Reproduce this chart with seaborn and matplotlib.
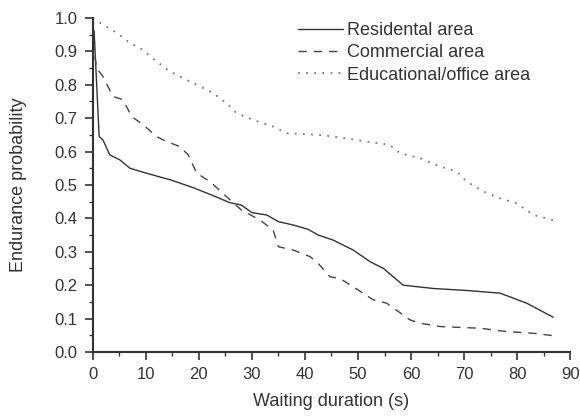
import matplotlib
matplotlib.use("Agg")
import matplotlib.pyplot as plt
import seaborn as sns
import pandas as pd
from matplotlib.ticker import MultipleLocator

sns.set_theme(style="white")
plt.rcParams['font.family'] = ['Liberation Sans', 'DejaVu Sans']

res_x = [0, 0.25, 1.2, 1.9, 3.2, 5.1, 7, 9.5, 12.6, 14.5, 18.9, 22.7, 25.8, 28, 30, 32.8, 35, 37.8,
         40.6, 42.5, 45.3, 49.1, 52.3, 54.8, 58.5, 64.2, 70.5, 76.8, 81.8, 86.8]
res_y = [0.97, 0.96, 0.645, 0.635, 0.59, 0.575, 0.55, 0.538, 0.524, 0.516, 0.492, 0.468, 0.447, 0.44,
         0.417, 0.41, 0.39, 0.38, 0.367, 0.35, 0.335, 0.305, 0.27, 0.25, 0.20, 0.19, 0.184, 0.176, 0.146, 0.104]

com_x = [0, 0.25, 0.7, 1.9, 3.8, 5.7, 7.3, 9.5, 12, 13.9, 16.4, 18, 19.6, 22.1, 25.2, 28, 31.5, 34, 35,
         37.8, 41, 42.5, 44.7, 46.6, 49.1, 52.9, 55.4, 59.8, 61.7, 65.5, 73, 78, 83, 87.2]
com_y = [0.93, 0.905, 0.85, 0.825, 0.765, 0.755, 0.705, 0.68, 0.645, 0.63, 0.615, 0.59, 0.535, 0.51,
         0.465, 0.425, 0.395, 0.365, 0.315, 0.305, 0.285, 0.265, 0.225, 0.22, 0.195, 0.156, 0.146,
         0.096, 0.086, 0.076, 0.071, 0.061, 0.056, 0.048]

edu_x = [0, 0.4, 4.5, 7, 8.9, 12, 14.5, 17, 20.2, 22.7, 25.2, 27.1, 30.2, 34, 36.5, 42.5, 45.3, 51.6,
         56, 57.9, 61.7, 65.5, 68.6, 70.5, 73.7, 76.8, 79.9, 83.1, 87.8]
edu_y = [1.0, 0.995, 0.955, 0.925, 0.91, 0.87, 0.84, 0.82, 0.795, 0.775, 0.745, 0.715, 0.695, 0.675,
         0.655, 0.65, 0.645, 0.63, 0.62, 0.595, 0.58, 0.555, 0.54, 0.51, 0.48, 0.46, 0.445, 0.41, 0.39]

labels = ["Residental area", "Commercial area", "Educational/office area"]

df = pd.concat([
    pd.DataFrame({"x": res_x, "y": res_y, "s": labels[0]}),
    pd.DataFrame({"x": com_x, "y": com_y, "s": labels[1]}),
    pd.DataFrame({"x": edu_x, "y": edu_y, "s": labels[2]}),
])

fig = plt.figure(figsize=(5.8, 4.17), dpi=100)
ax = fig.add_axes([0.160, 0.156, 0.823, 0.801])

styles = {labels[0]: ("-", "#333333", 1.0),
          labels[1]: ((0, (6, 5)), "#444444", 1.0),
          labels[2]: ((0, (1, 3.5)), "#777777", 1.3)}
for lab in labels:
    ls, c, lw = styles[lab]
    sub = df[df["s"] == lab]
    sns.lineplot(data=sub, x="x", y="y", ax=ax, color=c, linestyle=ls, linewidth=lw,
                 label=lab, sort=False, estimator=None)

ax.set_xlim(0, 90)
ax.set_ylim(0, 1.0)
ax.xaxis.set_major_locator(MultipleLocator(10))
ax.xaxis.set_minor_locator(MultipleLocator(5))
ax.yaxis.set_major_locator(MultipleLocator(0.1))
ax.yaxis.set_minor_locator(MultipleLocator(0.05))
ax.yaxis.set_major_formatter(matplotlib.ticker.FormatStrFormatter('%.1f'))
ax.tick_params(which='major', direction='out', length=6, width=1.2, color='#333333',
               labelsize=12, labelcolor='#333333', pad=5, bottom=True, left=True)
ax.tick_params(which='minor', direction='out', length=3, width=1.0, color='#333333',
               bottom=True, left=True)

for s in ["top", "right"]:
    ax.spines[s].set_visible(False)
for s in ["left", "bottom"]:
    ax.spines[s].set_color('#333333')
    ax.spines[s].set_linewidth(1.5)

ax.set_xlabel("Waiting duration (s)", fontsize=13, color='#333333', labelpad=8)
ax.set_ylabel("Endurance probability", fontsize=13, color='#333333', labelpad=20)

leg = ax.legend(loc='upper left', bbox_to_anchor=(0.43, 0.988), frameon=False, fontsize=13,
                handlelength=2.5, handletextpad=0.2, labelspacing=0.3, borderaxespad=0,
                borderpad=0)
for t in leg.get_texts():
    t.set_color('#333333')

fig.savefig("out.png", dpi=100)
